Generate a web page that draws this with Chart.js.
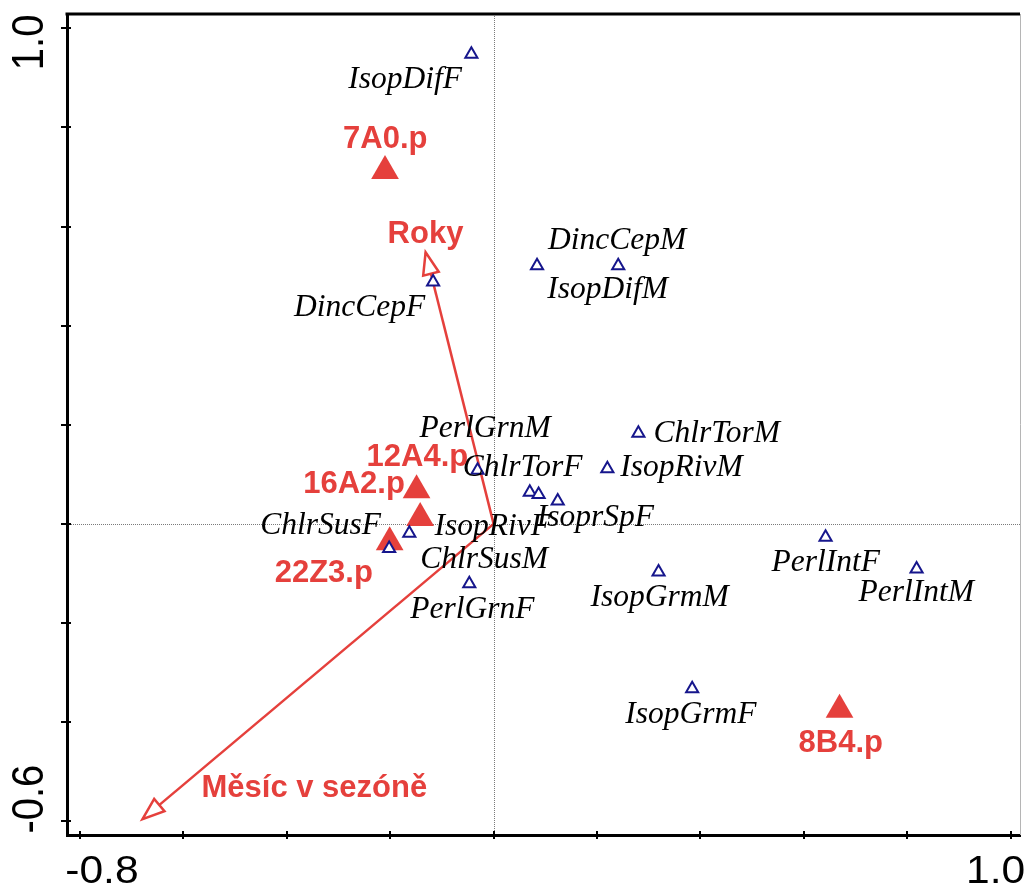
<!DOCTYPE html>
<html>
<head>
<meta charset="utf-8">
<script src="https://cdn.jsdelivr.net/npm/chart.js@4/dist/chart.umd.min.js"></script>
<style>
  html, body { margin: 0; padding: 0; background: #fff; }
  canvas { display: block; }
</style>
</head>
<body>
<canvas id="c" width="1024" height="886"></canvas>
<script>
// Species scores (open triangles)
const speciesNames = ['IsopDifF', 'DincCepF', 'DincCepM', 'IsopDifM', 'PerlGrnM', 'ChlrTorF', 'IsopRivF',
  'IsoprSpF', 'ChlrTorM', 'IsopRivM', 'ChlrSusF', 'ChlrSusM', 'PerlGrnF', 'IsopGrmM', 'PerlIntF', 'PerlIntM', 'IsopGrmF'];
const speciesX = [-0.043, -0.117, 0.084, 0.241, -0.031, 0.070, 0.087, 0.124, 0.280, 0.220, -0.202, -0.163, -0.047, 0.319, 0.642, 0.818, 0.384];
const speciesY = [0.948, 0.488, 0.521, 0.521, 0.108, 0.064, 0.059, 0.046, 0.183, 0.111, -0.050, -0.019, -0.121, -0.097, -0.027, -0.091, -0.333];

// Supplementary samples (filled triangles)
const sampleNames = ['7A0.p', '12A4.p', '16A2.p', '22Z3.p', '8B4.p'];
const sampleX = [-0.210, -0.149, -0.142, -0.201, 0.669];
const sampleY = [0.712, 0.068, 0.012, -0.037, -0.375];

// Environmental variables (arrows from the origin)
const envNames = ['Roky', 'Měsíc v sezóně'];
const envX = [-0.1315, -0.679];
const envY = [0.548, -0.596];

// Axes
const xRange = [-0.825, 1.018];
const yRange = [-0.628, 1.029];
const xTicks = [-0.8, -0.6, -0.4, -0.2, 0.0, 0.2, 0.4, 0.6, 0.8, 1.0];
const xTickLabels = ['-0.8', '', '', '', '', '', '', '', '', '1.0'];
const yTicks = [-0.6, -0.4, -0.2, 0.0, 0.2, 0.4, 0.6, 0.8, 1.0];
const yTickLabels = ['-0.6', '', '', '', '', '', '', '', '1.0'];

// ---- styling ----
const RED = 'rgb(229,64,60)';
const NAVY = 'rgb(22,22,140)';
const SPECIES_FONT = "italic 31.5px 'Liberation Serif', 'Times New Roman', serif";
const RED_FONT = "bold 31px 'Liberation Sans', Arial, sans-serif";
const AXIS_FONT_X = "38px 'Liberation Sans', Arial, sans-serif";
const AXIS_FONT_Y = "40px 'Liberation Sans', Arial, sans-serif";
const AXIS_STRETCH = 1.12;

// label placement relative to each mark (px: left edge, baseline)
const speciesLabelOffsets = [[-123, 34], [-139, 34], [11, -17], [-71, 32], [-58, -33], [-67, -16], [-104, 40],
  [-21, 25], [15, 9], [13, 7], [-129, -15], [11, 35], [-59, 34], [-68, 34], [-54, 34], [-58, 32], [-67, 34]];
const sampleLabelOffsets = [[-42, -23], [-50, -24], [-117, -25], [-115, 40], [-41, 42]];
const envLabelOffsets = [[-38, -9], [59, -22]];
// tick label placement: shift along the axis from the tick
const xTickLabelShift = { '-0.8': 22, '1.0': -15 };
const yTickLabelShift = { '-0.6': -22, '1.0': 14 };

const ARROW_FIRST = 2; // index of first arrow dataset

const speciesData = speciesX.map((x, i) => ({ x, y: speciesY[i] }));
const sampleData = sampleX.map((x, i) => ({ x, y: sampleY[i] }));
const arrowSets = envX.map((x, i) => ({
  label: envNames[i],
  data: [{ x: 0, y: 0 }, { x, y: envY[i] }],
  showLine: true,
  borderColor: RED,
  borderWidth: 2.5,
  pointRadius: 0,
  fill: false
}));

const ordination = {
  id: 'ordination',
  beforeDatasetsDraw(chart) {
    const { ctx, chartArea: a, scales: { x, y } } = chart;
    ctx.save();
    // dotted lines through the origin
    ctx.strokeStyle = '#7a7a7a';
    ctx.lineWidth = 1;
    ctx.setLineDash([1, 1]);
    const x0 = Math.round(x.getPixelForValue(0)) + 0.5;
    const y0 = Math.round(y.getPixelForValue(0)) + 0.5;
    ctx.beginPath();
    ctx.moveTo(x0, a.top); ctx.lineTo(x0, a.bottom);
    ctx.moveTo(a.left, y0); ctx.lineTo(a.right, y0);
    ctx.stroke();
    ctx.setLineDash([]);
    // top edge and right edge of the frame
    ctx.strokeStyle = '#000';
    ctx.lineWidth = 3;
    ctx.beginPath();
    ctx.moveTo(a.left - 1.5, a.top); ctx.lineTo(a.right, a.top);
    ctx.stroke();
    ctx.strokeStyle = '#b5b5b5';
    ctx.lineWidth = 1;
    ctx.beginPath();
    ctx.moveTo(a.right + 0.5, a.top); ctx.lineTo(a.right + 0.5, a.bottom);
    ctx.stroke();
    // tick marks crossing the axis lines
    ctx.strokeStyle = '#000';
    ctx.lineWidth = 2;
    ctx.beginPath();
    x.ticks.forEach(t => {
      const px = Math.round(x.getPixelForValue(t.value));
      ctx.moveTo(px, a.bottom - 4); ctx.lineTo(px, a.bottom + 4);
    });
    y.ticks.forEach(t => {
      const py = Math.round(y.getPixelForValue(t.value));
      ctx.moveTo(a.left - 6, py); ctx.lineTo(a.left + 4, py);
    });
    ctx.stroke();
    ctx.restore();
  },
  afterDatasetDraw(chart, args) {
    if (args.index < ARROW_FIRST) return;
    const { ctx, scales: { x, y } } = chart;
    const i = args.index - ARROW_FIRST;
    const ox = x.getPixelForValue(0), oy = y.getPixelForValue(0);
    const tx = x.getPixelForValue(envX[i]), ty = y.getPixelForValue(envY[i]);
    const len = Math.hypot(tx - ox, ty - oy);
    const ux = (tx - ox) / len, uy = (ty - oy) / len;
    const L = 22, W = 8;
    const bx = tx - ux * L, by = ty - uy * L;
    ctx.save();
    ctx.beginPath();
    ctx.moveTo(tx, ty);
    ctx.lineTo(bx - uy * W, by + ux * W);
    ctx.lineTo(bx + uy * W, by - ux * W);
    ctx.closePath();
    ctx.fillStyle = '#fff';
    ctx.fill();
    ctx.strokeStyle = RED;
    ctx.lineWidth = 2.5;
    ctx.lineJoin = 'miter';
    ctx.stroke();
    ctx.restore();
  },
  afterDatasetsDraw(chart) {
    const { ctx, scales: { x, y } } = chart;
    ctx.save();
    ctx.textAlign = 'left';
    ctx.textBaseline = 'alphabetic';
    // species names
    ctx.font = SPECIES_FONT;
    ctx.fillStyle = '#000';
    speciesNames.forEach((n, i) => {
      const [dx, dy] = speciesLabelOffsets[i];
      ctx.fillText(n, x.getPixelForValue(speciesX[i]) + dx, y.getPixelForValue(speciesY[i]) + dy);
    });
    // sample names and variable names
    ctx.font = RED_FONT;
    ctx.fillStyle = RED;
    sampleNames.forEach((n, i) => {
      const [dx, dy] = sampleLabelOffsets[i];
      ctx.fillText(n, x.getPixelForValue(sampleX[i]) + dx, y.getPixelForValue(sampleY[i]) + dy);
    });
    envNames.forEach((n, i) => {
      const [dx, dy] = envLabelOffsets[i];
      ctx.fillText(n, x.getPixelForValue(envX[i]) + dx, y.getPixelForValue(envY[i]) + dy);
    });
    ctx.restore();
  },
  afterDraw(chart) {
    const { ctx, chartArea: a, scales: { x, y } } = chart;
    ctx.save();
    ctx.fillStyle = '#000';
    ctx.textAlign = 'center';
    ctx.textBaseline = 'alphabetic';
    // horizontal axis numbers
    ctx.font = AXIS_FONT_X;
    xTicks.forEach((v, i) => {
      const s = xTickLabels[i];
      if (!s) return;
      const px = x.getPixelForValue(v) + (xTickLabelShift[s] || 0);
      ctx.save();
      ctx.translate(px, a.bottom + 48);
      ctx.scale(AXIS_STRETCH, 1);
      ctx.fillText(s, 0, 0);
      ctx.restore();
    });
    // vertical axis numbers, reading upwards
    ctx.font = AXIS_FONT_Y;
    yTicks.forEach((v, i) => {
      const s = yTickLabels[i];
      if (!s) return;
      const py = y.getPixelForValue(v) + (yTickLabelShift[s] || 0);
      ctx.save();
      ctx.translate(a.left - 24, py);
      ctx.scale(AXIS_STRETCH, 1);
      ctx.rotate(-Math.PI / 2);
      ctx.fillText(s, 0, 0);
      ctx.restore();
    });
    ctx.restore();
  }
};

new Chart(document.getElementById('c'), {
  type: 'scatter',
  data: {
    datasets: [
      {
        label: 'species',
        data: speciesData,
        pointStyle: 'triangle',
        pointRadius: 7,
        pointBorderWidth: 2,
        borderColor: NAVY,
        backgroundColor: '#fff'
      },
      {
        label: 'samples',
        data: sampleData,
        pointStyle: 'triangle',
        pointRadius: 16,
        pointBorderWidth: 0,
        borderColor: RED,
        backgroundColor: RED
      },
      ...arrowSets
    ]
  },
  options: {
    responsive: false,
    devicePixelRatio: 1,
    animation: false,
    layout: { autoPadding: false, padding: { top: 14, right: 4, left: 0, bottom: 0 } },
    plugins: { legend: { display: false }, tooltip: { enabled: false } },
    scales: {
      x: {
        type: 'linear',
        min: xRange[0],
        max: xRange[1],
        afterBuildTicks: s => { s.ticks = xTicks.map(v => ({ value: v })); },
        afterFit: s => { s.height = 51; },
        ticks: { display: false },
        grid: { display: true, drawOnChartArea: false, drawTicks: false },
        border: { display: true, color: '#000', width: 3 }
      },
      y: {
        type: 'linear',
        min: yRange[0],
        max: yRange[1],
        afterBuildTicks: s => { s.ticks = yTicks.map(v => ({ value: v })); },
        afterFit: s => { s.width = 67; },
        ticks: { display: false },
        grid: { display: true, drawOnChartArea: false, drawTicks: false },
        border: { display: true, color: '#000', width: 3 }
      }
    }
  },
  plugins: [ordination]
});
</script>
</body>
</html>
